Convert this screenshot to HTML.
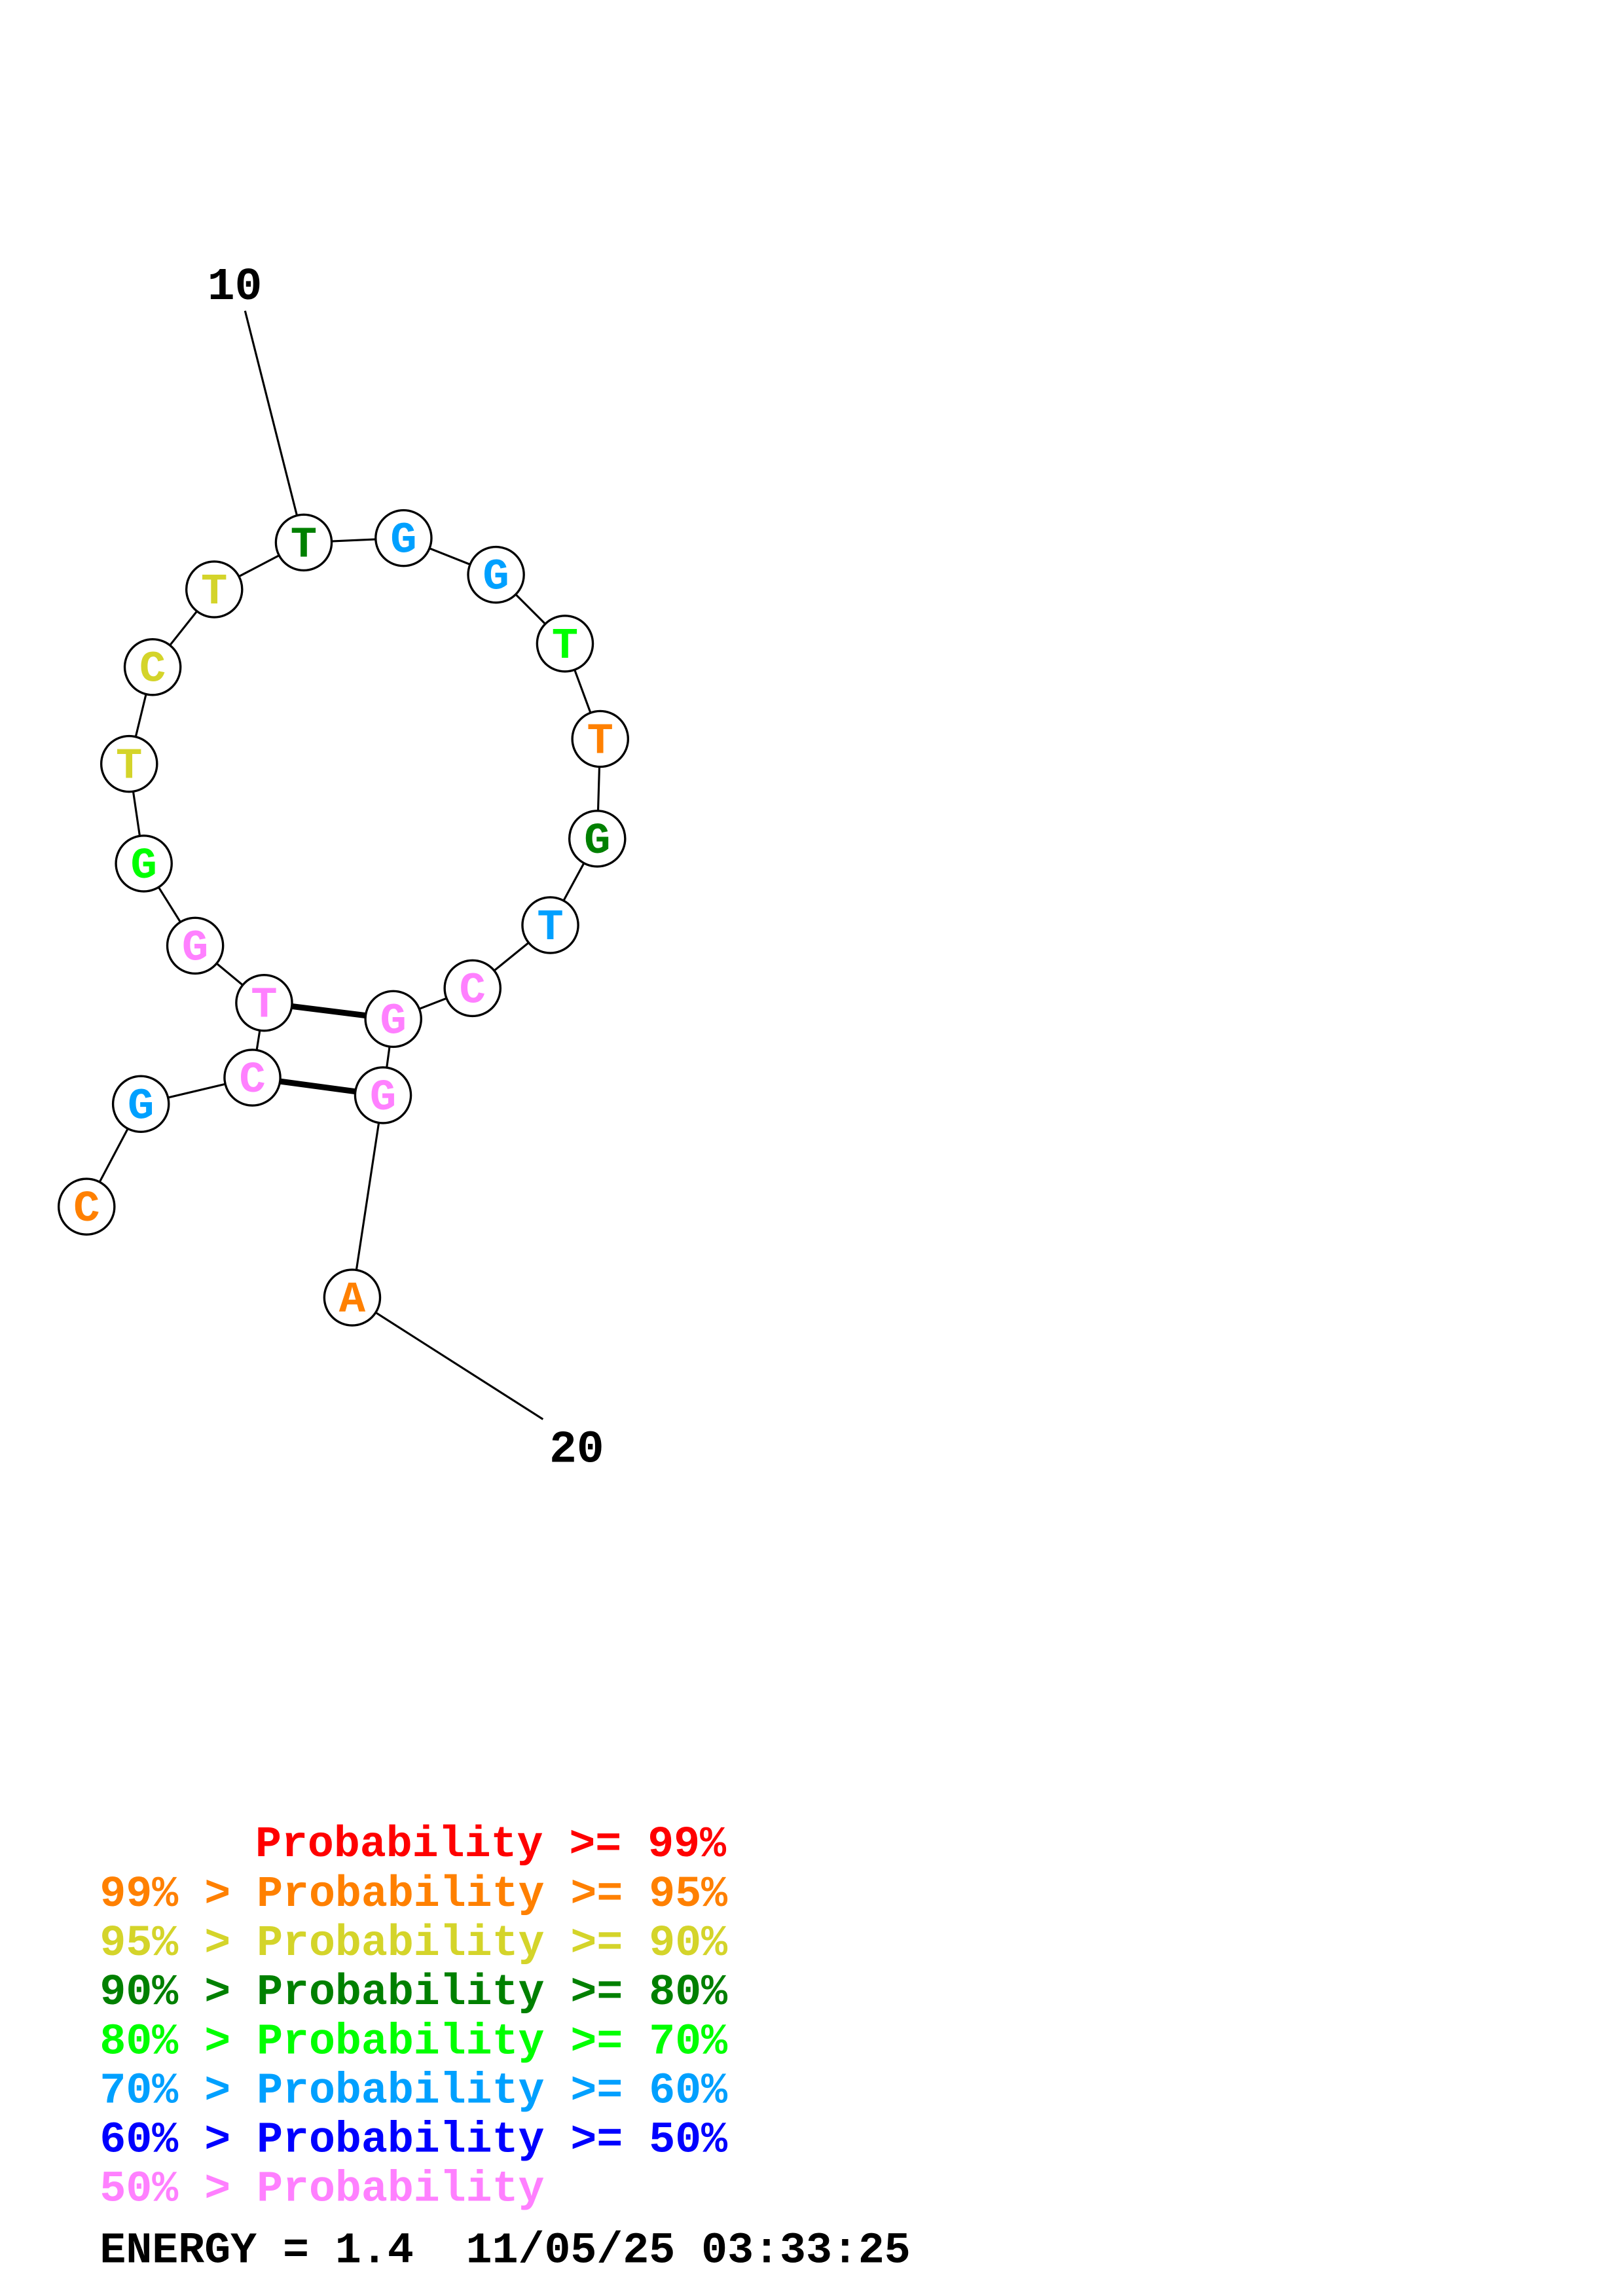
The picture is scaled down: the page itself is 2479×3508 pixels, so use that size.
<!DOCTYPE html>
<html><head><meta charset="utf-8"><style>html,body{margin:0;padding:0;background:#fff}svg{display:block}text{white-space:pre}</style></head>
<body>
<svg width="2479" height="3508" viewBox="0 0 1106 1566" preserveAspectRatio="none" xmlns="http://www.w3.org/2000/svg" font-family="Liberation Mono, monospace" font-weight="bold">
<g stroke="#000" stroke-width="1.4" fill="none">
<polyline points="59,823 96,753 172,735 180,684 133,645 98,589 88,521 104,455 146,402 207,370 275,367 338,392 385,439 409,504 407,572 375,631 322,674 268,695 261,747 240,885"/>
<line x1="167" y1="212" x2="207" y2="370"/>
<line x1="370" y1="968" x2="240" y2="885"/>
<line x1="172" y1="735" x2="261" y2="747" stroke-width="4"/>
<line x1="180" y1="684" x2="268" y2="695" stroke-width="4"/>
</g>
<g stroke="#000" stroke-width="1.5" fill="#fff">
<circle cx="59" cy="823" r="19"/><circle cx="96" cy="753" r="19"/><circle cx="172" cy="735" r="19"/><circle cx="180" cy="684" r="19"/><circle cx="133" cy="645" r="19"/><circle cx="98" cy="589" r="19"/><circle cx="88" cy="521" r="19"/><circle cx="104" cy="455" r="19"/><circle cx="146" cy="402" r="19"/><circle cx="207" cy="370" r="19"/><circle cx="275" cy="367" r="19"/><circle cx="338" cy="392" r="19"/><circle cx="385" cy="439" r="19"/><circle cx="409" cy="504" r="19"/><circle cx="407" cy="572" r="19"/><circle cx="375" cy="631" r="19"/><circle cx="322" cy="674" r="19"/><circle cx="268" cy="695" r="19"/><circle cx="261" cy="747" r="19"/><circle cx="240" cy="885" r="19"/>
</g>
<g font-size="30" text-anchor="middle" dominant-baseline="central">
<text x="59" y="825" fill="#ff8000">C</text>
<text x="96" y="755" fill="#00a0ff">G</text>
<text x="172" y="737" fill="#ff80ff">C</text>
<text x="180" y="686" fill="#ff80ff">T</text>
<text x="133" y="647" fill="#ff80ff">G</text>
<text x="98" y="591" fill="#00ff00">G</text>
<text x="88" y="523" fill="#d4d42a">T</text>
<text x="104" y="457" fill="#d4d42a">C</text>
<text x="146" y="404" fill="#d4d42a">T</text>
<text x="207" y="372" fill="#008000">T</text>
<text x="275" y="369" fill="#00a0ff">G</text>
<text x="338" y="394" fill="#00a0ff">G</text>
<text x="385" y="441" fill="#00ff00">T</text>
<text x="409" y="506" fill="#ff8000">T</text>
<text x="407" y="574" fill="#008000">G</text>
<text x="375" y="633" fill="#00a0ff">T</text>
<text x="322" y="676" fill="#ff80ff">C</text>
<text x="268" y="697" fill="#ff80ff">G</text>
<text x="261" y="749" fill="#ff80ff">G</text>
<text x="240" y="887" fill="#ff8000">A</text>
</g>
<g font-size="31" text-anchor="middle">
<text x="160" y="204">10</text>
<text x="393" y="997">20</text>
</g>
<g font-size="29.7">
<text x="174" y="1266" fill="#ff0000">Probability &gt;= 99%</text>
<text x="68" y="1300" fill="#ff8000">99% &gt; Probability &gt;= 95%</text>
<text x="68" y="1333.5" fill="#d4d42a">95% &gt; Probability &gt;= 90%</text>
<text x="68" y="1367" fill="#008000">90% &gt; Probability &gt;= 80%</text>
<text x="68" y="1400.5" fill="#00ff00">80% &gt; Probability &gt;= 70%</text>
<text x="68" y="1434" fill="#00a0ff">70% &gt; Probability &gt;= 60%</text>
<text x="68" y="1467.5" fill="#0000ff">60% &gt; Probability &gt;= 50%</text>
<text x="68" y="1501" fill="#ff80ff">50% &gt; Probability</text>
<text x="68" y="1543" fill="#000">ENERGY = 1.4  11/05/25 03:33:25</text>
</g>
</svg>
</body></html>
